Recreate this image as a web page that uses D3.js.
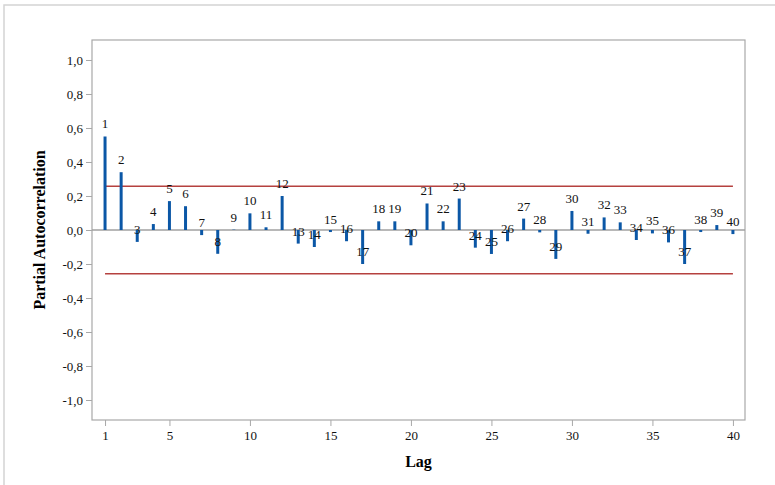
<!DOCTYPE html>
<html>
<head>
<meta charset="utf-8">
<script src="https://cdn.jsdelivr.net/npm/d3@7"></script>
<style>
  body { margin: 0; background: #fff; }
  text { font-family: "Liberation Serif", "DejaVu Serif", serif; }
</style>
</head>
<body>
<svg id="chart" width="775" height="485"></svg>
<script>
const lags = d3.range(1, 41);
const pacf = [
  0.55, 0.34, -0.07, 0.035, 0.17, 0.14, -0.03, -0.14, 0.002, 0.098,
  0.016, 0.20, -0.08, -0.10, -0.012, -0.066, -0.20, 0.051, 0.051, -0.09,
  0.156, 0.051, 0.185, -0.104, -0.141, -0.066, 0.067, -0.014, -0.17, 0.112,
  -0.022, 0.074, 0.045, -0.059, -0.02, -0.073, -0.20, -0.012, 0.029, -0.024
];
const limit = 0.258;
const yTicks = [-1, -0.8, -0.6, -0.4, -0.2, 0, 0.2, 0.4, 0.6, 0.8, 1];
const xTicks = [1, 5, 10, 15, 20, 25, 30, 35, 40];

const svg = d3.select("#chart");
const pLeft = 92, pRight = 745, pTop = 40, pBottom = 420;

const x = d3.scaleLinear().domain([0.19, 40.75]).range([pLeft, pRight]);
const y = d3.scaleLinear().domain([-1.1176, 1.1176]).range([pBottom, pTop]);

// outer frame
svg.append("rect")
  .attr("x", 4).attr("y", 5).attr("width", 800).attr("height", 500)
  .attr("fill", "none").attr("stroke", "#d4d4d4").attr("stroke-width", 1.5);

// plot frame
svg.append("rect")
  .attr("x", pLeft).attr("y", pTop)
  .attr("width", pRight - pLeft).attr("height", pBottom - pTop)
  .attr("fill", "none").attr("stroke", "#a8a8a8").attr("stroke-width", 1.2);

const yAxis = svg.append("g")
  .attr("transform", "translate(" + pLeft + ",0)")
  .call(d3.axisLeft(y).tickValues(yTicks).tickSize(6).tickPadding(3)
    .tickFormat(d => d3.format(".1f")(d).replace(".", ",").replace("−", "-")));

const xAxis = svg.append("g")
  .attr("transform", "translate(0," + pBottom + ")")
  .call(d3.axisBottom(x).tickValues(xTicks).tickSize(6).tickPadding(5));

[yAxis, xAxis].forEach(a => {
  a.select(".domain").remove();
  a.selectAll(".tick line").attr("stroke", "#a8a8a8");
  a.selectAll(".tick text")
    .attr("fill", "#111")
    .style("font-family", "Liberation Serif")
    .style("font-size", "13px");
});

// zero line
svg.append("line")
  .attr("x1", pLeft).attr("x2", pRight)
  .attr("y1", y(0)).attr("y2", y(0))
  .attr("stroke", "#a0a0a0").attr("stroke-width", 1.5);

// significance limits
[limit, -limit].forEach(v => {
  svg.append("line")
    .attr("x1", x(1)).attr("x2", x(40))
    .attr("y1", y(v)).attr("y2", y(v))
    .attr("stroke", "#b5413f").attr("stroke-width", 1.5);
});

// bars
svg.selectAll(".bar")
  .data(lags)
  .enter()
  .append("line")
  .attr("class", "bar")
  .attr("x1", d => x(d)).attr("x2", d => x(d))
  .attr("y1", y(0))
  .attr("y2", (d, i) => y(pacf[i]))
  .attr("stroke", "#0b57a6").attr("stroke-width", 3);

// lag labels
svg.selectAll(".lbl")
  .data(lags)
  .enter()
  .append("text")
  .attr("class", "lbl")
  .attr("x", d => x(d))
  .attr("y", (d, i) => y(pacf[i]) - 8)
  .attr("text-anchor", "middle")
  .style("font-size", "13px")
  .attr("fill", "#111")
  .text(d => d);

// titles
svg.append("text")
  .attr("transform", "translate(45," + ((pTop + pBottom) / 2) + ") rotate(-90)")
  .attr("text-anchor", "middle")
  .style("font-size", "16px").style("font-weight", "bold")
  .text("Partial Autocorrelation");

svg.append("text")
  .attr("x", (pLeft + pRight) / 2).attr("y", 467)
  .attr("text-anchor", "middle")
  .style("font-size", "16px").style("font-weight", "bold")
  .text("Lag");
</script>
</body>
</html>
